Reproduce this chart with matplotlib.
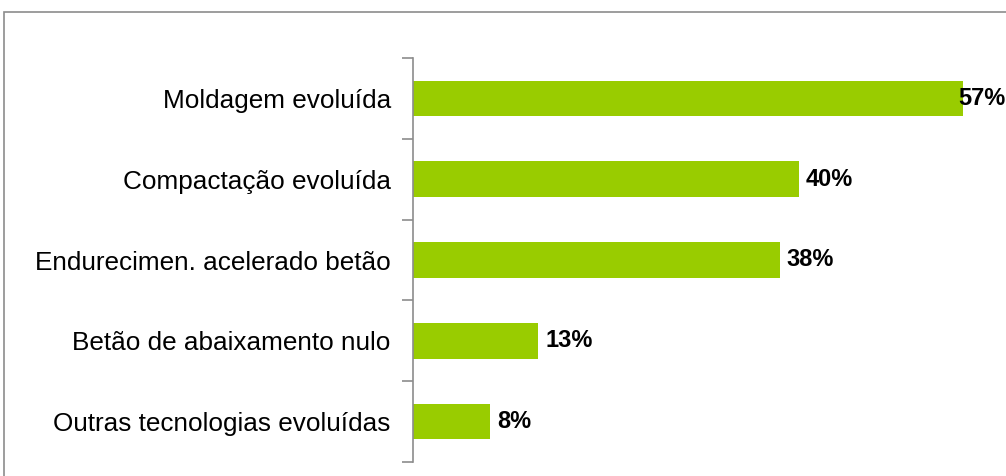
import matplotlib.pyplot as plt
from matplotlib.patches import Rectangle
import numpy as np

plt.rcParams['font.family'] = ['Liberation Sans', 'DejaVu Sans']

# categories top to bottom, share of companies (%)
categories = ["Moldagem evoluída", "Compactação evoluída", "Endurecimen. acelerado betão",
              "Betão de abaixamento nulo", "Outras tecnologias evoluídas"]
values = [57, 40, 38, 13, 8]

bar_color = "#99cc00"
grey = "#8c8c8c"

fig = plt.figure(figsize=(10.06, 4.76), dpi=100)
# outer chart frame (only top and left edges fall inside the image)
fig.patches.append(Rectangle((4 / 1006, -0.1), 1.2, 1 - 12 / 476 + 0.1,
                             transform=fig.transFigure, fill=False,
                             edgecolor=grey, linewidth=1.2))

ax = fig.add_axes([413 / 1006, 14 / 476, (992 - 413) / 1006, (462 - 14 - 44) / 476])
y = np.arange(len(categories))
ax.barh(y, values, height=0.44, color=bar_color, zorder=2)
ax.set_xlim(0, 60)
ax.set_ylim(len(categories) - 0.5, -0.5)

ax.set_yticks(y)
ax.set_yticklabels(categories, fontsize=18.8)
ax.tick_params(axis='y', which='major', length=0, pad=16)
ax.set_yticks(np.arange(-0.5, len(categories)), minor=True)
ax.tick_params(axis='y', which='minor', length=8, color=grey, width=1.2)
ax.set_xticks([])

for s in ['top', 'right', 'bottom']:
    ax.spines[s].set_visible(False)
ax.spines['left'].set_color(grey)
ax.spines['left'].set_linewidth(1.2)

for yi, v in zip(y, values):
    # the longest bar has no room to its right, so its label overlaps the bar end
    off = -5 if v == max(values) else 7
    ax.annotate(f"{v}%", (v, yi), xytext=(off, 0), textcoords='offset pixels',
                va='center', ha='left', fontsize=17, fontweight='bold', zorder=3)

fig.savefig("out.png", dpi=100)
